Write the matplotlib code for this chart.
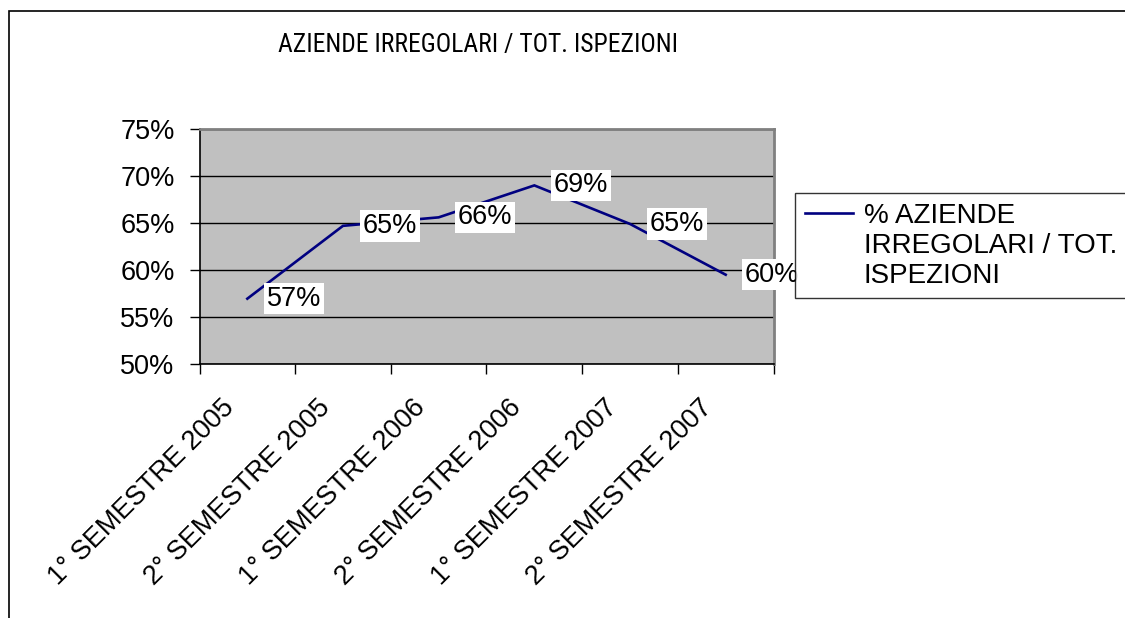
import matplotlib
matplotlib.use("Agg")
import matplotlib.pyplot as plt
from matplotlib import font_manager as fm
from matplotlib.legend_handler import HandlerLine2D
from matplotlib.patches import Rectangle
from matplotlib.transforms import ScaledTranslation
import numpy as np

categories = ["1° SEMESTRE 2005", "2° SEMESTRE 2005", "1° SEMESTRE 2006",
              "2° SEMESTRE 2006", "1° SEMESTRE 2007", "2° SEMESTRE 2007"]
values = [56.95, 64.7, 65.6, 69.0, 64.9, 59.5]
value_labels = ["57%", "65%", "66%", "69%", "65%", "60%"]
y_ticks = [50, 55, 60, 65, 70, 75]
y_tick_labels = ["50%", "55%", "60%", "65%", "70%", "75%"]
title = "AZIENDE IRREGOLARI / TOT. ISPEZIONI"
series_name = "% AZIENDE\nIRREGOLARI / TOT.\nISPEZIONI"

plt.rcParams['font.family'] = ['Liberation Sans', 'DejaVu Sans']
FS = 19.5

W, H = 1125, 618
fig = plt.figure(figsize=(W / 100, H / 100), dpi=100)
fig.patch.set_facecolor('white')

left, right, top, bottom = 199.5, 773.5, 129, 364
ax = fig.add_axes([left / W, 1 - bottom / H, (right - left) / W, (bottom - top) / H])
ax.set_facecolor('#C0C0C0')

x = np.arange(len(categories))
line, = ax.plot(x, values, color='#000080', lw=1.9, label=series_name, zorder=3,
                solid_joinstyle='miter')

ax.set_xlim(-0.5, len(categories) - 0.5)
ax.set_ylim(50, 75)
ax.set_yticks(y_ticks)
ax.set_yticklabels(y_tick_labels, fontsize=FS)
ax.yaxis.grid(True, color='#000000', lw=1.0)
ax.set_axisbelow(True)
ax.tick_params(axis='y', direction='out', length=7, width=1, pad=11, colors='black')

ax.set_xticks(np.arange(-0.5, len(categories)), minor=False)
ax.set_xticklabels([])
ax.tick_params(axis='x', which='major', direction='out', length=7, width=1)
ax.set_xticks(x, minor=True)
ax.set_xticklabels(categories, minor=True, fontsize=FS, rotation=45,
                   rotation_mode='anchor', ha='right', va='center')
ax.tick_params(axis='x', which='minor', length=0, pad=31)
shift = ScaledTranslation(-17 / 100, 3 / 100, fig.dpi_scale_trans)
for lab in ax.get_xticklabels(minor=True):
    lab.set_transform(lab.get_transform() + shift)

for s in ['top', 'right']:
    ax.spines[s].set_color('#808080')
    ax.spines[s].set_linewidth(2)
for s in ['left', 'bottom']:
    ax.spines[s].set_color('#000000')
    ax.spines[s].set_linewidth(1.2)

for xi, v, lab in zip(x, values, value_labels):
    ax.annotate(lab, (xi, v), xytext=(14, 0), textcoords='offset points',
                ha='left', va='center', fontsize=FS, zorder=4,
                bbox=dict(boxstyle='square,pad=0.1', fc='white', ec='none'),
                annotation_clip=False)

# Title: the reference uses a condensed face; use one if available
narrow = None
prefs = ['liberation sans narrow', 'arial narrow', 'roboto condensed',
         'dejavu sans condensed', 'open sans condensed', 'noto sans condensed']
cands = []
for f in fm.fontManager.ttflist:
    nm = f.name.lower()
    fn = f.fname.lower()
    if f.style != 'normal' or f.weight not in (400, 'normal', 'regular'):
        continue
    if any(k in fn for k in ('bold', 'oblique', 'italic', 'light', 'thin',
                             'medium', 'black', 'semi', 'extra', 'mono')):
        continue
    if ('narrow' in nm or 'condensed' in nm or 'narrow' in fn or 'condensed' in fn
            or f.stretch in ('condensed', 'semi-condensed')):
        cands.append(f)
for p in prefs:
    for f in cands:
        key = (f.name + ' ' + f.fname).lower().replace('-', ' ').replace('_', ' ')
        if p in key or p.replace(' ', '') in key.replace(' ', ''):
            narrow = f
            break
    if narrow is not None:
        break
if narrow is None and cands:
    narrow = cands[0]

if narrow is not None:
    tprop = fm.FontProperties(fname=narrow.fname, size=FS)
else:
    tprop = fm.FontProperties(family=['Liberation Sans', 'DejaVu Sans'], size=17.5)
ttl = fig.text(478 / W, 1 - 45 / H, title, ha='center', va='center',
               fontproperties=tprop)
fig.canvas.draw()
r = fig.canvas.get_renderer()
tw = ttl.get_window_extent(r).width
if narrow is not None and tw > 0:
    new_size = FS * min(1.1, max(0.85, 400.0 / tw))
    tprop = tprop.copy()
    tprop.set_size(new_size)
    ttl.set_fontproperties(tprop)


class TopHandler(HandlerLine2D):
    def create_artists(self, legend, orig_handle, xdescent, ydescent, width,
                       height, fontsize, trans):
        arts = super().create_artists(legend, orig_handle, xdescent, ydescent,
                                      width, height, fontsize, trans)
        for a in arts:
            yd = np.asarray(a.get_ydata(), dtype=float)
            a.set_ydata(yd + 24)
        return arts


leg = fig.legend(handles=[line], loc='upper left',
                 bbox_to_anchor=(795 / W, 1 - 193 / H), borderaxespad=0,
                 fontsize=20, frameon=True, fancybox=False, shadow=False,
                 handlelength=1.75, handletextpad=0.38, borderpad=0.35,
                 handler_map={line: TopHandler()})
leg.get_frame().set_edgecolor('black')
leg.get_frame().set_linewidth(1.0)
leg.set_zorder(10)

fig.add_artist(Rectangle((8.5 / W, -0.1), 1.5, 1 - 11 / H + 0.1, fill=False,
                         ec='black', lw=1.2, transform=fig.transFigure))

fig.savefig('out.png', dpi=100, facecolor='white')
